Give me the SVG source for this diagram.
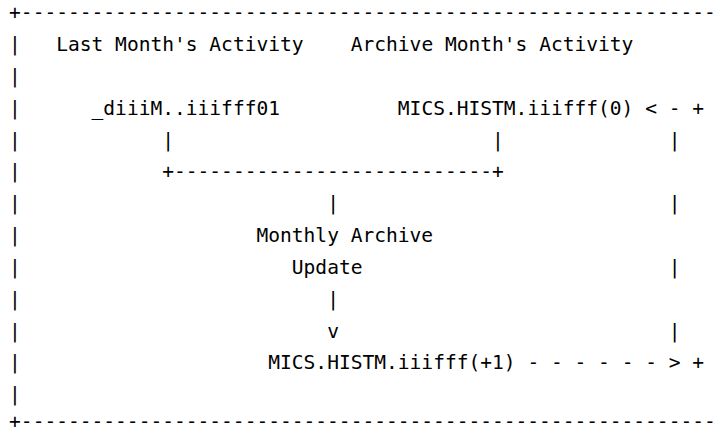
<svg xmlns="http://www.w3.org/2000/svg" width="720" height="433" viewBox="0 0 720 433" xml:space="preserve">
<style>
text{font-family:"DejaVu Sans Mono",monospace;font-size:19.57px;fill:#000;white-space:pre}
</style>
<rect width="720" height="433" fill="#fff"/>
<g id="frame">
<text x="9.1" y="19.1">+-----------------------------------------------------------</text>
<text x="9.1" y="50.95">|</text>
<text x="9.1" y="82.8">|</text>
<text x="9.1" y="114.65">|</text>
<text x="9.1" y="146.5">|</text>
<text x="9.1" y="178.35">|</text>
<text x="9.1" y="210.2">|</text>
<text x="9.1" y="242.05">|</text>
<text x="9.1" y="273.9">|</text>
<text x="9.1" y="305.75">|</text>
<text x="9.1" y="337.6">|</text>
<text x="9.1" y="369.45">|</text>
<text x="9.1" y="401.3">|</text>
<text x="9.1" y="428">+-----------------------------------------------------------</text>
</g>
<g id="label-last-month">
<text x="56.22" y="50.95">Last Month's Activity</text>
</g>
<g id="label-archive-month">
<text x="350.72" y="50.95">Archive Month's Activity</text>
</g>
<g id="node-diiiM">
<text x="91.56" y="114.65">_diiiM..iiifff01</text>
</g>
<g id="node-histm0">
<text x="397.84" y="114.65">MICS.HISTM.iiifff(0)</text>
</g>
<g id="node-update">
<text x="256.48" y="242.05">Monthly Archive</text>
<text x="291.82" y="273.9">Update</text>
</g>
<g id="node-histm1">
<text x="268.26" y="369.45">MICS.HISTM.iiifff(+1)</text>
</g>
<g id="connectors">
<text x="162.24" y="146.5">|</text>
<text x="492.08" y="146.5">|</text>
<text x="162.24" y="178.35">+---------------------------+</text>
<text x="327.16" y="210.2">|</text>
<text x="327.16" y="305.75">|</text>
<text x="327.16" y="337.6">v</text>
<text x="645.22" y="114.65">&lt; - +</text>
<text x="668.78" y="146.5">|</text>
<text x="668.78" y="210.2">|</text>
<text x="668.78" y="273.9">|</text>
<text x="668.78" y="337.6">|</text>
<text x="527.42" y="369.45">- - - - - - &gt; +</text>
</g>
</svg>
